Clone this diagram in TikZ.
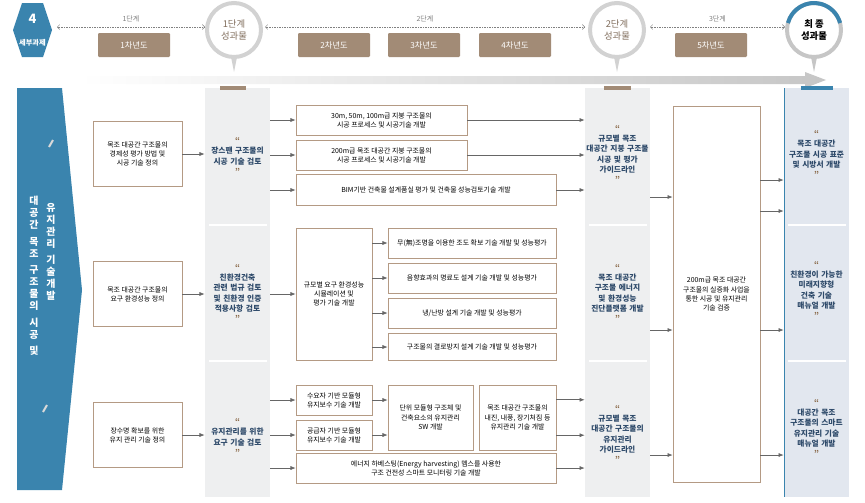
\documentclass[tikz,border=0pt]{standalone}
\usepackage{fontspec}
\setmainfont{Noto Sans CJK KR}
\usetikzlibrary{arrows.meta, positioning}
\definecolor{panelblue}{HTML}{3A84AE}
\definecolor{tabbrown}{HTML}{A28B76}
\definecolor{quotebrown}{HTML}{8A6A4A}
\definecolor{headtext}{HTML}{2E4A6A}
\definecolor{colgray}{HTML}{EEEFF0}
\definecolor{colblue}{HTML}{E2E7EF}
\definecolor{linebrown}{HTML}{B49A84}
\newcommand\pu{0.03cm}
\newcommand\qtext[1]{{\color{quotebrown}\bfseries“}\\#1\\{\color{quotebrown}\bfseries”}}
\tikzset{
  taskbox/.style={draw=linebrown, fill=white, align=center, inner sep=1pt,
    font=\fontsize{5.9}{7.8}\selectfont},
  resulttext/.style={align=center, text=headtext, text width=68*\pu,
    font=\fontsize{6.6}{8.6}\selectfont\bfseries},
  yearbox/.style={fill=tabbrown, text=white, minimum width=72*\pu, minimum height=24*\pu,
    rounded corners=1pt, font=\fontsize{7}{8}\selectfont},
  flow/.style={-{Latex[length=4.5pt, width=3.5pt]}, gray!80!black, semithick},
  stagearrow/.style={{Straight Barb[length=2pt]}-{Straight Barb[length=2pt]}, densely dotted, gray},
}
\begin{document}
\begin{tikzpicture}[x=\pu, y=-\pu]
\useasboundingbox (0,0) rectangle (865,502);

% header
\fill[panelblue] (13,30) -- (22,3) -- (43,3) -- (52,30) -- (43,57) -- (22,57) -- cycle;
\node[text=white, font=\fontsize{11}{12}\selectfont\bfseries] (task) at (32.5,19) {4};
\node[text=white, font=\fontsize{6.2}{7}\selectfont\bfseries, inner sep=0] (tasklbl) at (32.5,43) {세부과제};

\node[yearbox] (y1) at (134,45) {1차년도};
\node[yearbox] (y2) at (334,45) {2차년도};
\node[yearbox] (y3) at (424,45) {3차년도};
\node[yearbox] (y4) at (515,45) {4차년도};
\node[yearbox] (y5) at (711,45) {5차년도};

\foreach \n/\cx/\rc in {s1/234/gray!35, s2/617/gray!35, sf/814/gray!45}{
  \fill[\rc] (\cx-4,52) -- (\cx+4,52) -- (\cx,72) -- cycle;
  \draw[\rc, line width=4*\pu, fill=white] (\cx,30) circle (27);
}
\draw[panelblue, line width=4*\pu] (814,30) ++(195:27) arc (195:345:27);
\node[text=tabbrown!80!black, align=center, font=\fontsize{8}{10}\selectfont] (s1) at (234,30) {1단계\\성과물};
\node[text=tabbrown!80!black, align=center, font=\fontsize{8}{10}\selectfont] (s2) at (617,30) {2단계\\성과물};
\node[text=black, align=center, font=\fontsize{8}{10}\selectfont\bfseries] (sf) at (814,30) {최 종\\성과물};

\draw[stagearrow] (57,27) -- (205,27) node[pos=.5, above=1pt, font=\fontsize{6}{7}\selectfont] {1단계};
\draw[stagearrow] (265,27) -- (585,27) node[pos=.5, above=1pt, font=\fontsize{6}{7}\selectfont] {2단계};
\draw[stagearrow] (650,27) -- (785,27) node[pos=.5, above=1pt, font=\fontsize{6}{7}\selectfont] {3단계};

\shade[left color=white, right color=gray!45] (80,76) -- (805,76) -- (805,72) -- (826,80) -- (805,88) -- (805,84) -- (80,84) -- cycle;

% left panel
\fill[panelblue] (17,88) -- (62,88) -- (82,290) -- (62,490) -- (17,490) -- cycle;
\draw[gray!30, line width=2*\pu] (49,147) -- (53,140);
\draw[gray!30, line width=2*\pu] (43,412) -- (47,405);
\node[text=white, align=center, font=\fontsize{8.5}{10.2}\selectfont\bfseries] (vleft) at (34,276)
  {대\\공\\간\\[4pt]목\\조\\[4pt]구\\조\\물\\의\\[4pt]시\\공\\[4pt]및};
\node[text=white, align=center, font=\fontsize{8.5}{10.2}\selectfont\bfseries] (vright) at (51,252)
  {유\\지\\관\\리\\[4pt]기\\술\\개\\발};

% result columns
\fill[colgray] (205,88) rectangle (270,497);
\fill[colgray] (585,88) rectangle (650,497);
\fill[colblue] (784,88) rectangle (849,497);
\draw[panelblue, thin] (784,88) -- (784,497);
\node[inner sep=0, minimum width=65*\pu, minimum height=409*\pu] (p2) at (237.5,292.5) {};
\node[inner sep=0, minimum width=65*\pu, minimum height=409*\pu] (p3) at (617.5,292.5) {};
\node[inner sep=0, minimum width=65*\pu, minimum height=409*\pu] (pf) at (816.5,292.5) {};
\foreach \cx in {237.5,617.5,816.5}{
  \draw[white, line width=1.5*\pu] (\cx-29,225) -- (\cx+29,225);
  \draw[white, line width=1.5*\pu] (\cx-29,361) -- (\cx+29,361);
}
\fill[tabbrown] (220,86) rectangle (246,90);
\fill[tabbrown] (604,86) rectangle (631,90);
\fill[panelblue] (801,86) rectangle (833,90);

% column 1
\node[taskbox, minimum width=89*\pu, minimum height=65*\pu] (c1a) at (137.5,154) {목조 대공간 구조물의\\경제성 평가 방법 및\\시공 기술 정의};
\node[taskbox, minimum width=89*\pu, minimum height=65*\pu] (c1b) at (137.5,294) {목조 대공간 구조물의\\요구 환경성능 정의};
\node[taskbox, minimum width=89*\pu, minimum height=65*\pu] (c1c) at (137.5,435) {장수명 확보를 위한\\유지 관리 기술 정의};

% column 2
\node[resulttext] (r2a) at (237.5,156) {\qtext{장스팬 구조물의\\시공 기술 검토}};
\node[resulttext] (r2b) at (237.5,293) {\qtext{친환경건축\\관련 법규 검토\\및 친환경 인증\\적용사항 검토}};
\node[resulttext] (r2c) at (237.5,437) {\qtext{유지관리를 위한\\요구 기술 검토}};

% row 1
\node[taskbox, minimum width=171*\pu, minimum height=30*\pu] (t1a) at (381.5,120) {30m, 50m, 100m급 지붕 구조물의\\시공 프로세스 및 시공기술 개발};
\node[taskbox, minimum width=171*\pu, minimum height=30*\pu] (t1b) at (381.5,155) {200m급 목조 대공간 지붕 구조물의\\시공 프로세스 및 시공기술 개발};
\node[taskbox, minimum width=260*\pu, minimum height=31*\pu] (t1c) at (426,190) {BIM기반 건축물 설계품실 평가 및 건축물 성능검토기술 개발};

% row 2
\node[taskbox, minimum width=76*\pu, minimum height=132*\pu] (t2m) at (334,294) {규모별 요구 환경성능\\시뮬레이션 및\\평가 기술 개발};
\node[taskbox, minimum width=168*\pu, minimum height=30*\pu] (t2a) at (472,243) {무(無)조명을 이용한 조도 확보 기술 개발 및 성능평가};
\node[taskbox, minimum width=168*\pu, minimum height=30*\pu] (t2b) at (472,278) {음향효과의 명료도 설계 기술 개발 및 성능평가};
\node[taskbox, minimum width=168*\pu, minimum height=30*\pu] (t2c) at (472,313) {냉/난방 설계 기술 개발 및 성능평가};
\node[taskbox, minimum width=168*\pu, minimum height=27*\pu] (t2d) at (472,347) {구조물의 결로방지 설계 기술 개발 및 성능평가};

% row 3
\node[taskbox, minimum width=76*\pu, minimum height=30*\pu] (t3a) at (334,400) {수요자 기반 모듈형\\유지보수 기술 개발};
\node[taskbox, minimum width=76*\pu, minimum height=30*\pu] (t3b) at (334,435) {공급자 기반 모듈형\\유지보수 기술 개발};
\node[taskbox, minimum width=85*\pu, minimum height=65*\pu] (t3c) at (430.5,417.5) {단위 모듈형 구조체 및\\건축요소의 유지관리\\SW 개발};
\node[taskbox, minimum width=77*\pu, minimum height=65*\pu] (t3d) at (517.5,417.5) {목조 대공간 구조물의\\내진, 내풍, 장기처짐 등\\유지관리 기술 개발};
\node[taskbox, minimum width=260*\pu, minimum height=30*\pu] (t3e) at (426,468) {에너지 하베스팅(Energy harvesting) 멤스를 사용한\\구조 건전성 스마트 모니터링 기술 개발};

% column 3, verification, final
\node[resulttext] (r3a) at (617.5,154) {\qtext{규모별 목조\\대공간 지붕 구조물\\시공 및 평가\\가이드라인}};
\node[resulttext] (r3b) at (617.5,293) {\qtext{목조 대공간\\구조물 에너지\\및 환경성능\\진단플랫폼 개발}};
\node[resulttext] (r3c) at (617.5,434) {\qtext{규모별 목조\\대공간 구조물의\\유지관리\\가이드라인}};
\node[taskbox, minimum width=87*\pu, minimum height=376*\pu] (vb) at (716.5,294) {200m급 목조 대공간\\구조물의 실증화 사업을\\통한 시공 및 유지관리\\기술 검증};
\node[resulttext] (rfa) at (816.5,154) {\qtext{목조 대공간\\구조물 시공 표준\\및 시방서 개발}};
\node[resulttext] (rfb) at (816.5,290) {\qtext{친환경이 가능한\\미래지향형\\건축 기술\\매뉴얼 개발}};
\node[resulttext] (rfc) at (816.5,428) {\qtext{대공간 목조\\구조물의 스마트\\유지관리 기술\\매뉴얼 개발}};

% connectors
\foreach \c in {c1a,c1b,c1c}
  \draw[flow] (\c.east) -- (\c.east -| p2.west);
\foreach \t in {t1a,t1b,t1c,t2m,t3a,t3b,t3e}
  \draw[flow] (\t.west -| p2.east) -- (\t.west);
\foreach \t in {t2a,t2b,t2c,t2d}
  \draw[flow] (\t.west -| t2m.east) -- (\t.west);
\draw[flow] (t3a.east) -- (t3a.east -| t3c.west);
\draw[flow] (t3b.east) -- (t3b.east -| t3c.west);
\foreach \t in {t1a,t1b,t1c,t3e}
  \draw[flow] (\t.east) -- (\t.east -| p3.west);
\draw[flow] (t3d.north east) ++(0,15) coordinate (d1) -- (d1 -| p3.west);
\draw[flow] (t3d.south east) ++(0,-15) coordinate (d2) -- (d2 -| p3.west);
\foreach \y in {197,330,455}
  \draw[flow] (p3.east |- 0,\y) coordinate (k\y) -- (k\y -| vb.west);
\foreach \y in {180,211,330,455}
  \draw[flow] (vb.east |- 0,\y) coordinate (f\y) -- (f\y -| pf.west);
\end{tikzpicture}
\end{document}
